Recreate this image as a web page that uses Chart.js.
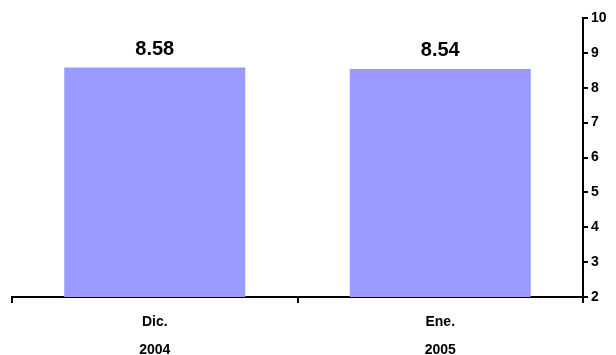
<!DOCTYPE html>
<html>
<head>
<meta charset="utf-8">
<style>
  html, body { margin: 0; padding: 0; background: #ffffff; }
  #wrap { width: 616px; height: 355px; position: relative; }
</style>
<script src="https://cdn.jsdelivr.net/npm/chart.js@4/dist/chart.umd.min.js"></script>
</head>
<body>
<div id="wrap"><canvas id="c" width="616" height="355"></canvas></div>
<script>
// Categories (two-line labels: month / year)
const categories = [["Dic.", "2004"], ["Ene.", "2005"]];
// Series values
const values = [8.58, 8.54];
// Value axis ticks
const yMin = 2;
const yMax = 10;
const yStep = 1;

const FONT = "'Liberation Sans', Arial, sans-serif";

// Writes each bar's value centred above it
const valueLabels = {
  id: 'valueLabels',
  afterDatasetsDraw(chart) {
    const ctx = chart.ctx;
    const meta = chart.getDatasetMeta(0);
    ctx.save();
    ctx.font = "bold 20px " + FONT;
    ctx.fillStyle = '#000000';
    ctx.textAlign = 'center';
    ctx.textBaseline = 'bottom';
    meta.data.forEach((bar, i) => {
      ctx.fillText(values[i].toFixed(2), bar.x, bar.y - 8);
    });
    ctx.restore();
  }
};

new Chart(document.getElementById('c'), {
  type: 'bar',
  data: {
    labels: categories,
    datasets: [{
      data: values,
      backgroundColor: '#9999FF',
      borderWidth: 0,
      categoryPercentage: 0.634,
      barPercentage: 1.0
    }]
  },
  options: {
    responsive: false,
    animation: false,
    events: [],
    layout: { padding: { top: 18, left: 12, right: 0, bottom: 0 } },
    plugins: {
      legend: { display: false },
      tooltip: { enabled: false },
      title: { display: false }
    },
    scales: {
      x: {
        offset: true,
        grid: {
          offset: true,
          drawOnChartArea: false,
          drawTicks: true,
          tickLength: 6,
          color: '#000000',
          lineWidth: 2
        },
        border: { display: true, color: '#000000', width: 2 },
        ticks: {
          color: '#000000',
          font: { family: FONT, size: 14, weight: 'bold', lineHeight: 2.0 },
          padding: 5,
          maxRotation: 0
        },
        afterFit(scale) { scale.height = 58; }
      },
      y: {
        position: 'right',
        min: yMin,
        max: yMax,
        grid: {
          drawOnChartArea: false,
          drawTicks: true,
          tickLength: 5,
          color: '#000000',
          lineWidth: 2
        },
        border: { display: true, color: '#000000', width: 2 },
        ticks: {
          stepSize: yStep,
          color: '#000000',
          font: { family: FONT, size: 14, weight: 'bold' },
          padding: 3
        },
        afterFit(scale) { scale.width = 33; }
      }
    }
  },
  plugins: [valueLabels]
});
</script>
</body>
</html>
